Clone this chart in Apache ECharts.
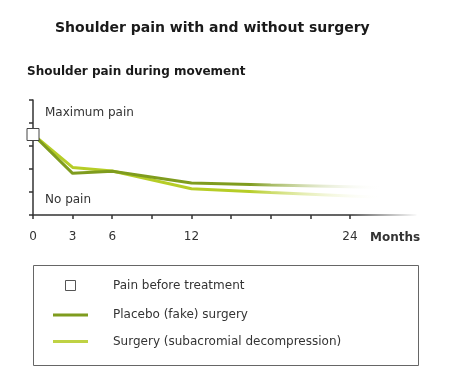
<!DOCTYPE html>
<html>
<head>
<meta charset="utf-8">
<script src="https://cdn.jsdelivr.net/npm/echarts@6/dist/echarts.min.js"></script>
<style>
html,body{margin:0;padding:0;background:#fff;}
#chart{width:450px;height:390px;}
</style>
</head>
<body>
<div id="chart"></div>
<script>
// Data (months, pain score 0..5 scale)
const months = [0, 3, 6, 12, 18, 24, 26.3];
const placeboPain = [3.5, 1.81, 1.9, 1.39, 1.3, 1.23, 1.2];
const surgeryPain = [3.5, 2.07, 1.91, 1.14, 0.98, 0.83, 0.77];
const baselineMonth = [0];
const baselinePain = [3.5];
const xTickValues = [0, 3, 6, 9, 12, 15, 18, 21, 24];
const xLabelValues = [0, 3, 6, 12, 24];
const seriesNames = ['Pain before treatment', 'Placebo (fake) surgery', 'Surgery (subacromial decompression)'];

const FONT = '"DejaVu Sans", Verdana, sans-serif';
const placeboColor = '#7f9c1e';
const surgeryColor = '#b6cd27';

function fade(color, start) {
  return new echarts.graphic.LinearGradient(0, 0, 1, 0, [
    {offset: 0, color: color},
    {offset: start, color: color},
    {offset: 1, color: 'rgba(255,255,255,0)'}
  ]);
}

const chart = echarts.init(document.getElementById('chart'), null, {renderer: 'canvas'});
chart.setOption({
  animation: false,
  backgroundColor: '#fff',
  grid: {left: 33, right: 34, top: 100, bottom: 175, containLabel: false},
  xAxis: {
    type: 'value', min: 0, max: 29, interval: 3,
    splitLine: {show: false},
    axisLine: {lineStyle: {width: 1.5, color: new echarts.graphic.LinearGradient(0, 0, 1, 0, [
      {offset: 0, color: '#333'}, {offset: 0.83, color: '#333'}, {offset: 1, color: 'rgba(51,51,51,0)'}
    ])}},
    axisTick: {show: true, length: 4, lineStyle: {color: '#333', width: 1.5}, customValues: xTickValues},
    axisLabel: {customValues: xLabelValues, margin: 16, fontFamily: FONT, fontSize: 12, color: '#333'}
  },
  yAxis: {
    type: 'value', min: 0, max: 5, interval: 1,
    splitLine: {show: false},
    axisLine: {show: true, lineStyle: {width: 1.5, color: '#333'}},
    axisTick: {show: true, length: 4, lineStyle: {color: '#333', width: 1.5}},
    axisLabel: {show: false}
  },
  series: [
    {
      name: seriesNames[2], type: 'line', showSymbol: false, z: 2,
      data: months.map((m, i) => [m, surgeryPain[i]]),
      lineStyle: {width: 3, color: fade(surgeryColor, 0.62)}
    },
    {
      name: seriesNames[1], type: 'line', showSymbol: false, z: 3,
      data: months.map((m, i) => [m, placeboPain[i]]),
      lineStyle: {width: 3, color: fade(placeboColor, 0.62)}
    },
    {
      name: seriesNames[0], type: 'scatter', z: 10, clip: false,
      symbol: 'rect', symbolSize: 12,
      itemStyle: {color: '#fff', borderColor: '#444', borderWidth: 1, opacity: 1},
      data: baselineMonth.map((m, i) => [m, baselinePain[i]])
    }
  ],
  graphic: [
    {type: 'text', left: 55, top: 21, style: {text: 'Shoulder pain with and without surgery', font: 'bold 14px ' + FONT, fill: '#1a1a1a'}},
    {type: 'text', left: 27, top: 66, style: {text: 'Shoulder pain during movement', font: 'bold 12px ' + FONT, fill: '#1a1a1a'}},
    {type: 'text', left: 45, top: 107, style: {text: 'Maximum pain', font: '12px ' + FONT, fill: '#333'}},
    {type: 'text', left: 45, top: 194, style: {text: 'No pain', font: '12px ' + FONT, fill: '#333'}},
    {type: 'text', left: 370, top: 232, style: {text: 'Months', font: 'bold 12px ' + FONT, fill: '#333'}},
    {type: 'rect', left: 33, top: 265, shape: {width: 385, height: 100}, style: {fill: '#fff', stroke: '#666', lineWidth: 1}},
    {type: 'rect', left: 65, top: 280, shape: {width: 10, height: 10}, style: {fill: '#fff', stroke: '#555', lineWidth: 1}},
    {type: 'text', left: 113, top: 280, style: {text: seriesNames[0], font: '12px ' + FONT, fill: '#333'}},
    {type: 'rect', left: 53, top: 313.5, shape: {width: 35, height: 3}, style: {fill: placeboColor}},
    {type: 'text', left: 113, top: 309, style: {text: seriesNames[1], font: '12px ' + FONT, fill: '#333'}},
    {type: 'rect', left: 53, top: 340, shape: {width: 35, height: 3}, style: {fill: '#bfd244'}},
    {type: 'text', left: 113, top: 336, style: {text: seriesNames[2], font: '12px ' + FONT, fill: '#333'}}
  ]
});
</script>
</body>
</html>
